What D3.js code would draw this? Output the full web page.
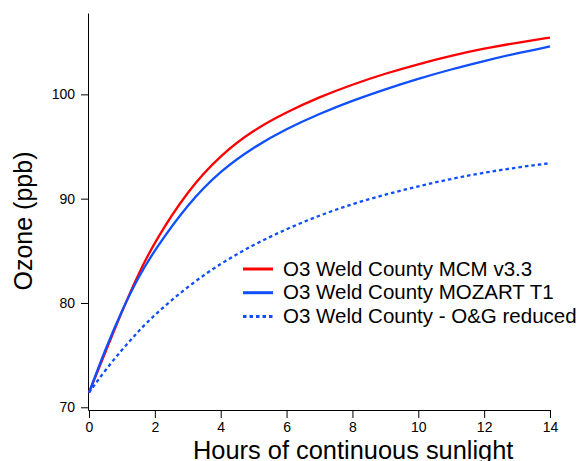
<!DOCTYPE html>
<html>
<head>
<meta charset="utf-8">
<script src="https://cdn.jsdelivr.net/npm/d3@7"></script>
<style>
  html, body { margin: 0; padding: 0; background: #fff; }
  svg { display: block; font-family: "Liberation Sans", Arial, Helvetica, sans-serif; }
</style>
</head>
<body>
<svg id="chart" width="586" height="461"></svg>
<script>
// ---- data ----
const hours = [0, 0.5, 1, 1.5, 2, 3, 4, 5, 6, 7, 8, 9, 10, 11, 12, 13, 14];
const mcmValues = [71.4, 75.3, 79.2, 82.8, 85.9, 90.8, 94.2, 96.6, 98.3, 99.75, 100.95, 102.0, 102.9, 103.7, 104.4, 104.95, 105.45];
const mozartValues = [71.4, 75.6, 79.3, 82.5, 85.1, 89.5, 92.7, 94.95, 96.7, 98.15, 99.4, 100.5, 101.5, 102.4, 103.2, 103.95, 104.6];
const reducedValues = [71.4, 73.6, 75.5, 77.3, 78.9, 81.6, 83.8, 85.6, 87.1, 88.4, 89.5, 90.4, 91.2, 91.9, 92.5, 93.0, 93.4];
const seriesNames = ["O3 Weld County MCM v3.3", "O3 Weld County MOZART T1", "O3 Weld County - O&G reduced"];
const xTicks = [0, 2, 4, 6, 8, 10, 12, 14];
const yTicks = [70, 80, 90, 100];
const xTitle = "Hours of continuous sunlight";
const yTitle = "Ozone (ppb)";

const series = [
  { name: seriesNames[0], values: mcmValues, color: "#ff0000", dash: null },
  { name: seriesNames[1], values: mozartValues, color: "#0f4fff", dash: null },
  { name: seriesNames[2], values: reducedValues, color: "#0f4fff", dash: "3.5,3" }
];

const svg = d3.select("#chart");
const x = d3.scaleLinear().domain([-0.03, 14]).range([88, 550]);
const y = d3.scaleLinear().domain([69.74, 107.8]).range([410, 13]);

// axes
const xAxis = svg.append("g").attr("transform", "translate(0,410)")
  .call(d3.axisBottom(x).tickValues(xTicks).tickSize(8).tickPadding(4).tickSizeOuter(0));
const yAxis = svg.append("g").attr("transform", "translate(88,0)")
  .call(d3.axisLeft(y).tickValues(yTicks).tickSize(7).tickPadding(6).tickSizeOuter(0));
[xAxis, yAxis].forEach(g => {
  g.select(".domain").attr("stroke", "#000").attr("stroke-width", 1);
  g.selectAll(".tick line").attr("stroke", "#000").attr("stroke-width", 1);
  g.selectAll(".tick text").attr("fill", "#000").style("font-size", "14px")
    .style("font-family", "'Liberation Sans', Arial, sans-serif");
});

// titles
svg.append("text").attr("x", 193).attr("y", 459).attr("text-anchor", "start")
  .style("font-size", "25.4px").attr("fill", "#000").text(xTitle);
svg.append("text").attr("transform", "rotate(-90)").attr("x", -221).attr("y", 32)
  .attr("text-anchor", "middle").style("font-size", "25px").attr("fill", "#000").text(yTitle);

// lines
const line = d3.line().x((d, i) => x(hours[i])).y(d => y(d)).curve(d3.curveBasis);
series.forEach(s => {
  svg.append("path").datum(s.values).attr("d", line)
    .attr("fill", "none").attr("stroke", s.color).attr("stroke-width", 2.3)
    .attr("stroke-dasharray", s.dash);
});

// legend
const legend = svg.append("g");
series.forEach((s, i) => {
  const yy = 269 + i * 23.7;
  legend.append("line").attr("x1", 243).attr("x2", 273).attr("y1", yy).attr("y2", yy)
    .attr("stroke", s.color).attr("stroke-width", 3).attr("stroke-dasharray", s.dash);
  legend.append("text").attr("x", 283).attr("y", yy + 6.5).style("font-size", "20.5px")
    .attr("fill", "#000").text(s.name);
});
</script>
</body>
</html>
